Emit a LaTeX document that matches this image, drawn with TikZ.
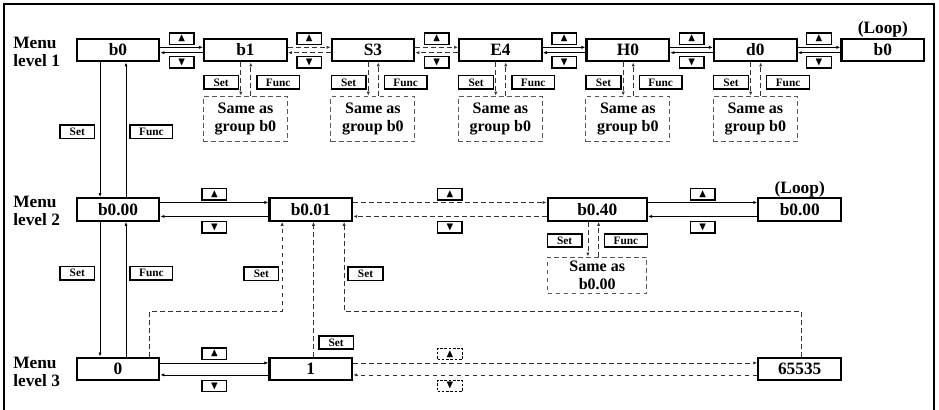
\documentclass[tikz,border=0pt]{standalone}
\usepackage{fontspec}
\setmainfont{Liberation Serif}
\usepackage{amssymb}
\usetikzlibrary{positioning, calc, arrows.meta}

\begin{document}
\begin{tikzpicture}[
  x=0.75pt, y=-0.75pt,
  font=\fontsize{13}{14}\selectfont\bfseries,
  node distance=32pt,
  box/.style={
    draw, line width=1.6pt, inner sep=1pt,
    minimum width=62pt, minimum height=17pt
  },
  keybox/.style={draw, line width=1.1pt, inner sep=0.5pt, minimum height=10pt,
    font=\fontsize{8.5}{8.5}\selectfont\bfseries},
  arrkey/.style={keybox, minimum width=18.5pt, minimum height=8.5pt},
  dkey/.style={arrkey, line width=0.8pt, dash pattern=on 2pt off 1.2pt},
  setkey/.style={keybox, minimum width=26pt},
  funckey/.style={keybox, minimum width=32pt},
  group/.style={
    draw=black!65, line width=0.8pt, dash pattern=on 3.5pt off 2.5pt,
    align=center, inner sep=1pt, minimum width=63pt, minimum height=34pt,
    font=\fontsize{12}{13.5}\selectfont\bfseries
  },
  link/.style={-{Latex[length=3pt,width=2.4pt]}, line width=0.6pt},
  dlink/.style={link, black!80, dash pattern=on 3.5pt off 2.5pt},
  lvl/.style={align=left, inner sep=0pt, anchor=west},
  frame/.style={line width=1.5pt}
]
\useasboundingbox (0,0) rectangle (939,410);
\draw[frame] (4,414) -- (4,4) -- (934,4) -- (934,414);

% menu level 1
\node[lvl] (lvl1) at (13,52) {Menu\\level 1};
\node[box] (b0) at (118,50) {b0};
\node[box, right=of b0] (b1) {b1};
\node[box, right=of b1] (s3) {S3};
\node[box, right=of s3] (e4) {E4};
\node[box, right=of e4] (h0) {H0};
\node[box, right=of h0] (d0) {d0};
\node[box, right=of d0] (b0loop) {b0};
\node[above=0pt of b0loop, inner sep=0pt] (loop1) {(Loop)};

\node[arrkey, above=3.75pt] (up1) at ($(b0.east)!.5!(b1.west)$) {$\blacktriangle$};
\node[arrkey, below=4.5pt] (dn1) at ($(b0.east)!.5!(b1.west)$) {$\blacktriangledown$};
\node[arrkey, above=3.75pt] (up2) at ($(b1.east)!.5!(s3.west)$) {$\blacktriangle$};
\node[arrkey, below=4.5pt] (dn2) at ($(b1.east)!.5!(s3.west)$) {$\blacktriangledown$};
\node[arrkey, above=3.75pt] (up3) at ($(s3.east)!.5!(e4.west)$) {$\blacktriangle$};
\node[arrkey, below=4.5pt] (dn3) at ($(s3.east)!.5!(e4.west)$) {$\blacktriangledown$};
\node[arrkey, above=3.75pt] (up4) at ($(e4.east)!.5!(h0.west)$) {$\blacktriangle$};
\node[arrkey, below=4.5pt] (dn4) at ($(e4.east)!.5!(h0.west)$) {$\blacktriangledown$};
\node[arrkey, above=3.75pt] (up5) at ($(h0.east)!.5!(d0.west)$) {$\blacktriangle$};
\node[arrkey, below=4.5pt] (dn5) at ($(h0.east)!.5!(d0.west)$) {$\blacktriangledown$};
\node[arrkey, above=3.75pt] (up6) at ($(d0.east)!.5!(b0loop.west)$) {$\blacktriangle$};
\node[arrkey, below=4.5pt] (dn6) at ($(d0.east)!.5!(b0loop.west)$) {$\blacktriangledown$};

\draw[link] ([yshift=2pt]b0.east) -- ([yshift=2pt]b1.west);
\draw[link] ([yshift=-2pt]b1.west) -- ([yshift=-2pt]b0.east);
\draw[dlink] ([yshift=2pt]b1.east) -- ([yshift=2pt]s3.west);
\draw[dlink] ([yshift=-2pt]s3.west) -- ([yshift=-2pt]b1.east);
\draw[dlink] ([yshift=2pt]s3.east) -- ([yshift=2pt]e4.west);
\draw[dlink] ([yshift=-2pt]e4.west) -- ([yshift=-2pt]s3.east);
\draw[link] ([yshift=2pt]e4.east) -- ([yshift=2pt]h0.west);
\draw[link] ([yshift=-2pt]h0.west) -- ([yshift=-2pt]e4.east);
\draw[link] ([yshift=2pt]h0.east) -- ([yshift=2pt]d0.west);
\draw[link] ([yshift=-2pt]d0.west) -- ([yshift=-2pt]h0.east);
\draw[link] ([yshift=2pt]d0.east) -- ([yshift=2pt]b0loop.west);
\draw[link] ([yshift=-2pt]b0loop.west) -- ([yshift=-2pt]d0.east);

% groups below level 1
\node[group, below=25pt of b1] (g1) {Same as\\group b0};
\node[group, below=25pt of s3] (g3) {Same as\\group b0};
\node[group, below=25pt of e4] (g4) {Same as\\group b0};
\node[group, below=25pt of h0] (g5) {Same as\\group b0};
\node[group, below=25pt of d0] (g6) {Same as\\group b0};

\node[setkey, anchor=west] (set1) at ([yshift=-15pt]b1.south west) {Set};
\node[funckey, anchor=west] (func1) at ([xshift=8pt,yshift=-15pt]b1.south) {Func};
\node[setkey, anchor=west] (set3) at ([yshift=-15pt]s3.south west) {Set};
\node[funckey, anchor=west] (func3) at ([xshift=8pt,yshift=-15pt]s3.south) {Func};
\node[setkey, anchor=west] (set4) at ([yshift=-15pt]e4.south west) {Set};
\node[funckey, anchor=west] (func4) at ([xshift=8pt,yshift=-15pt]e4.south) {Func};
\node[setkey, anchor=west] (set5) at ([yshift=-15pt]h0.south west) {Set};
\node[funckey, anchor=west] (func5) at ([xshift=8pt,yshift=-15pt]h0.south) {Func};
\node[setkey, anchor=west] (set6) at ([yshift=-15pt]d0.south west) {Set};
\node[funckey, anchor=west] (func6) at ([xshift=8pt,yshift=-15pt]d0.south) {Func};

\draw[dlink] ([xshift=-3.5pt]b1.south) -- ([xshift=-3.5pt]g1.north);
\draw[dlink] ([xshift=4pt]g1.north) -- ([xshift=4pt]b1.south);
\draw[dlink] ([xshift=-3.5pt]s3.south) -- ([xshift=-3.5pt]g3.north);
\draw[dlink] ([xshift=4pt]g3.north) -- ([xshift=4pt]s3.south);
\draw[dlink] ([xshift=-3.5pt]e4.south) -- ([xshift=-3.5pt]g4.north);
\draw[dlink] ([xshift=4pt]g4.north) -- ([xshift=4pt]e4.south);
\draw[dlink] ([xshift=-3.5pt]h0.south) -- ([xshift=-3.5pt]g5.north);
\draw[dlink] ([xshift=4pt]g5.north) -- ([xshift=4pt]h0.south);
\draw[dlink] ([xshift=-3.5pt]d0.south) -- ([xshift=-3.5pt]g6.north);
\draw[dlink] ([xshift=4pt]g6.north) -- ([xshift=4pt]d0.south);

% menu level 2
\node[lvl] (lvl2) at (13,211) {Menu\\level 2};
\node[box, below=101pt of b0] (b000) {b0.00};
\node[box, right=81pt of b000] (b001) {b0.01};
\node[box, right=145pt of b001, minimum width=74.5pt] (b040) {b0.40};
\node[box, right=82pt of b040] (b000loop) {b0.00};
\node[above=0pt of b000loop, inner sep=0pt] (loop2) {(Loop)};

\draw[link] ([xshift=-13.5pt]b0.south) -- ([xshift=-13.5pt]b000.north);
\draw[link] ([xshift=6pt]b000.north) -- ([xshift=6pt]b0.south);
\node[setkey, anchor=east] (setv1) at ($(b0.south)!.5!(b000.north)+(-17pt,-1.5pt)$) {Set};
\node[funckey, anchor=west] (funcv1) at ($(b0.south)!.5!(b000.north)+(8.5pt,-1.5pt)$) {Func};

\node[arrkey, above=6.5pt] (up7) at ($(b000.east)!.5!(b001.west)$) {$\blacktriangle$};
\node[arrkey, below=8.5pt] (dn7) at ($(b000.east)!.5!(b001.west)$) {$\blacktriangledown$};
\node[arrkey, above=6.5pt] (up8) at ($(b001.east)!.5!(b040.west)$) {$\blacktriangle$};
\node[arrkey, below=8.5pt] (dn8) at ($(b001.east)!.5!(b040.west)$) {$\blacktriangledown$};
\node[arrkey, above=6.5pt] (up9) at ($(b040.east)!.5!(b000loop.west)$) {$\blacktriangle$};
\node[arrkey, below=8.5pt] (dn9) at ($(b040.east)!.5!(b000loop.west)$) {$\blacktriangledown$};

\draw[link] ([yshift=5.25pt]b000.east) -- ([yshift=5.25pt]b001.west);
\draw[link] ([yshift=-5.25pt]b001.west) -- ([yshift=-5.25pt]b000.east);
\draw[dlink] ([yshift=5.25pt]b001.east) -- ([yshift=5.25pt]b040.west);
\draw[dlink] ([yshift=-5.25pt]b040.west) -- ([yshift=-5.25pt]b001.east);
\draw[link] ([yshift=5.25pt]b040.east) -- ([yshift=5.25pt]b000loop.west);
\draw[link] ([yshift=-5.25pt]b000loop.west) -- ([yshift=-5.25pt]b040.east);

\node[group, below=26pt of b040, minimum width=74.5pt, minimum height=27.5pt] (g040) {Same as\\b0.00};
\node[setkey, anchor=west] (set040) at ([yshift=-14pt]b040.south west) {Set};
\node[funckey, anchor=east] (func040) at ([yshift=-14pt]b040.south east) {Func};
\draw[dlink] ([xshift=-7pt]b040.south) -- ([xshift=-7pt]g040.north);
\draw[dlink] ([xshift=1pt]g040.north) -- ([xshift=1pt]b040.south);

% menu level 3
\node[lvl] (lvl3) at (13,372) {Menu\\level 3};
\node[box, below=101pt of b000] (zero) {0};
\node[box, right=81pt of zero] (one) {1};
\node[box] (last) at (b000loop |- one) {65535};

\draw[link] ([xshift=-13.5pt]b000.south) -- ([xshift=-13.5pt]zero.north);
\draw[link] ([xshift=6pt]zero.north) -- ([xshift=6pt]b000.south);
\node[setkey, anchor=east] (setv2) at ($(b000.south)!.5!(zero.north)+(-17pt,12pt)$) {Set};
\node[funckey, anchor=west] (funcv2) at ($(b000.south)!.5!(zero.north)+(8.5pt,12pt)$) {Func};

\node[arrkey, above=6.5pt] (up10) at ($(zero.east)!.5!(one.west)$) {$\blacktriangle$};
\node[arrkey, below=8pt] (dn10) at ($(zero.east)!.5!(one.west)$) {$\blacktriangledown$};
\node[dkey, above=6.5pt] (up11) at (up8 |- one.east) {$\blacktriangle$};
\node[dkey, below=8pt] (dn11) at (up8 |- one.east) {$\blacktriangledown$};

\draw[link] ([yshift=4.5pt]zero.east) -- ([yshift=4.5pt]one.west);
\draw[link] ([yshift=-4.5pt]one.west) -- ([yshift=-4.5pt]zero.east);
\draw[dlink] ([yshift=4.5pt]one.east) -- ([yshift=4.5pt]last.west);
\draw[dlink] ([yshift=-4.5pt]last.west) -- ([yshift=-4.5pt]one.east);

% set from level 3 back to b0.01
\draw[dlink] ([xshift=23.5pt]zero.north) -- ++(0,33.75pt) -| ([xshift=-21.5pt]b001.south);
\draw[dlink] ([xshift=2pt]one.north) -- ([xshift=2pt]b001.south);
\draw[dlink] ([xshift=1.5pt]last.north) -- ++(0,33.75pt) -| ([xshift=25pt]b001.south);
\node[setkey, anchor=east] (setl) at ([xshift=-23.5pt,yshift=-39pt]b001.south) {Set};
\node[setkey, anchor=west] (setr) at ([xshift=27.5pt,yshift=-39pt]b001.south) {Set};
\node[setkey, anchor=west] (setm) at ([xshift=5.5pt,yshift=10.5pt]one.north) {Set};
\end{tikzpicture}
\end{document}
